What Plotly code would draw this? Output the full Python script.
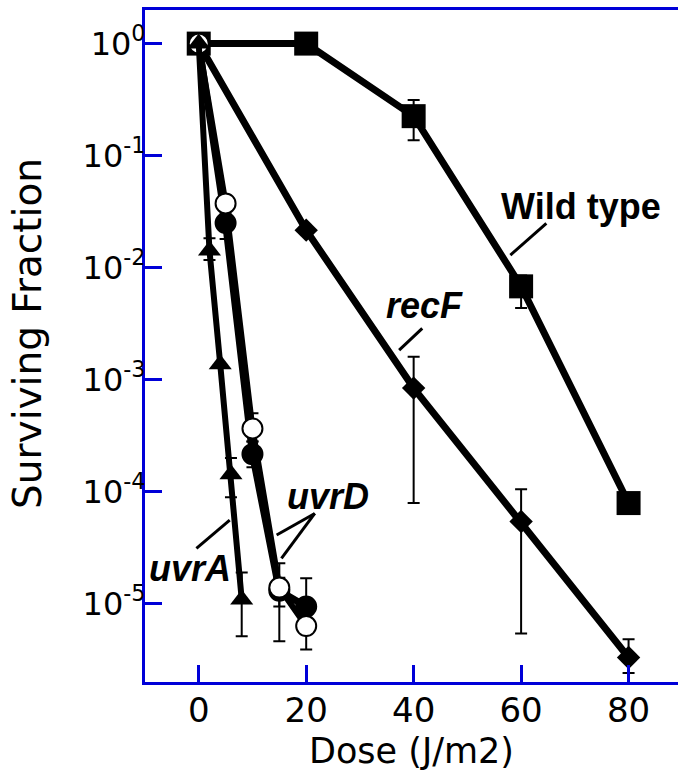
import plotly.graph_objects as go

# ---- survival data (dose in J/m2, surviving fraction) ----
wt_dose = [0, 20, 40, 60, 80]
wt_surv = [1.0, 1.0, 0.225, 0.0068, 7.9e-5]
wt_hi = [None, None, 0.313, 0.0085, None]
wt_lo = [None, None, 0.137, 0.00435, None]

recf_dose = [0, 20, 40, 60, 80]
recf_surv = [1.0, 0.0216, 8.4e-4, 5.4e-5, 3.3e-6]
recf_hi = [None, None, 1.6e-3, 1.05e-4, 4.8e-6]
recf_lo = [None, None, 7.9e-5, 5.4e-6, 2.4e-6]

uvrd1_dose = [0, 5, 10, 15, 20]
uvrd1_surv = [1.0, 0.025, 2.16e-4, 1.3e-5, 9.4e-6]
uvrd1_hi = [None, 0.030, 2.8e-4, 1.7e-5, 1.68e-5]
uvrd1_lo = [None, 0.018, 1.65e-4, 9.4e-6, 6.0e-6]

uvrd2_dose = [0, 5, 10, 15, 20]
uvrd2_surv = [1.0, 0.0374, 3.66e-4, 1.39e-5, 6.3e-6]
uvrd2_hi = [None, None, 5.0e-4, 2.29e-5, 8.0e-6]
uvrd2_lo = [None, None, 2.8e-4, 4.6e-6, 3.9e-6]

uvra_dose = [0, 2, 4, 6, 8]
uvra_surv = [1.0, 0.0142, 1.37e-3, 1.43e-4, 1.09e-5]
uvra_hi = [None, 0.0183, None, 2.0e-4, 1.9e-5]
uvra_lo = [None, 0.0117, None, 8.9e-5, 5.1e-6]

x_ticks = [0, 20, 40, 60, 80]
y_ticks = [1, 1e-1, 1e-2, 1e-3, 1e-4, 1e-5]
y_ticktext = ["10<sup>0</sup>", "10<sup>-1</sup>", "10<sup>-2</sup>",
              "10<sup>-3</sup>", "10<sup>-4</sup>", "10<sup>-5</sup>"]

# strain labels: text, label position (dose, log10 fraction), leader segments
labels = [
    ("<b>Wild type</b>", 71.2, -1.457, [((64.7, -1.605), (58.0, -1.888))]),
    ("<b><i>recF</i></b>", 42.05, -2.335, [((41.6, -2.543), (37.3, -2.737))]),
    ("<b><i>uvrD</i></b>", 24.06, -4.046, [((21.6, -4.195), (14.5, -4.388)),
                                           ((21.6, -4.195), (15.4, -4.596))]),
    ("<b><i>uvrA</i></b>", -1.67, -4.686, [((-0.43, -4.507), (5.77, -4.254))]),
]

TEXT_FONT = "DejaVu Sans, Verdana, sans-serif"
LABEL_FONT = "Liberation Sans, Arial, Helvetica, sans-serif"
AXIS_BLUE = "#0000d8"


def err(vals, hi, lo):
    plus = [(h - v) if h is not None else float("nan") for v, h in zip(vals, hi)]
    minus = [(v - l) if l is not None else float("nan") for v, l in zip(vals, lo)]
    return dict(type="data", symmetric=False, array=plus, arrayminus=minus,
                color="black", thickness=2, width=6)


fig = go.Figure()

series = [
    (wt_dose, wt_surv, wt_hi, wt_lo, 7, dict(symbol="square", size=24, color="black")),
    (recf_dose, recf_surv, recf_hi, recf_lo, 7, dict(symbol="diamond", size=18, color="black")),
    (uvrd1_dose, uvrd1_surv, uvrd1_hi, uvrd1_lo, 7,
     dict(symbol="circle", size=20, color="black", line=dict(color="black", width=2))),
    (uvrd2_dose, uvrd2_surv, uvrd2_hi, uvrd2_lo, 6,
     dict(symbol="circle", size=20, color="white", line=dict(color="black", width=2))),
    (uvra_dose, uvra_surv, uvra_hi, uvra_lo, 6, dict(symbol="triangle-up", size=20, color="black")),
]

for xs, ys, hi, lo, lw, mk in series:
    fig.add_trace(go.Scatter(
        x=xs, y=ys, mode="lines+markers",
        line=dict(color="black", width=lw),
        marker=mk, error_y=err(ys, hi, lo),
        showlegend=False, hoverinfo="skip", cliponaxis=False,
    ))

# leader lines from each label to its curve
for text, lx, ly, segs in labels:
    for (x0, y0), (x1, y1) in segs:
        fig.add_trace(go.Scatter(
            x=[x0, x1], y=[10 ** y0, 10 ** y1], mode="lines",
            line=dict(color="black", width=3),
            showlegend=False, hoverinfo="skip",
        ))
    fig.add_annotation(x=lx, y=ly, xref="x", yref="y", text=text,
                       showarrow=False, font=dict(family=LABEL_FONT, size=36, color="black"),
                       xanchor="center", yanchor="middle")

# y-axis title
fig.add_annotation(x=-0.2195, y=0.518, xref="paper", yref="paper",
                   text="Surviving Fraction", textangle=-90, showarrow=False,
                   font=dict(family=TEXT_FONT, size=39, color="black"),
                   xanchor="center", yanchor="middle")

fig.update_layout(
    width=678, height=777,
    margin=dict(l=145, r=0, t=10, b=95),
    paper_bgcolor="white", plot_bgcolor="white",
    font=dict(family=TEXT_FONT, size=34, color="black"),
)

fig.update_xaxes(
    range=[-10, 89.2], tickvals=x_ticks, ticks="inside", ticklen=17, tickwidth=3,
    tickcolor=AXIS_BLUE, showline=True, linecolor=AXIS_BLUE, linewidth=3, mirror=True,
    showgrid=False, zeroline=False, tickfont=dict(size=34, family=TEXT_FONT),
    ticklabelstandoff=-4,
    title=dict(text="Dose (J/m2)", font=dict(size=35, family=TEXT_FONT), standoff=10),
)
fig.update_yaxes(
    type="log", range=[-5.7, 0.3], tickvals=y_ticks, ticktext=y_ticktext,
    ticks="inside", ticklen=17, tickwidth=3, tickcolor=AXIS_BLUE,
    showline=True, linecolor=AXIS_BLUE, linewidth=3, mirror=False,
    showgrid=False, zeroline=False, tickfont=dict(size=32, family=TEXT_FONT),
    ticklabelstandoff=-10,
)

fig.write_html("out.html")
